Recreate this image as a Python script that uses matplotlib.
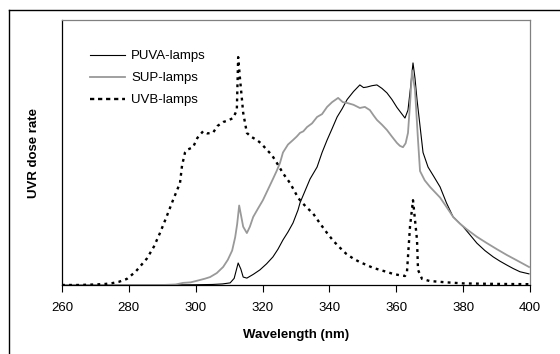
import numpy as np
import matplotlib
matplotlib.use("Agg")
import matplotlib.pyplot as plt
from matplotlib.lines import Line2D

plt.rcParams["font.family"] = ["Liberation Sans", "DejaVu Sans"]

# wavelength (nm) / relative dose rate
uvb_wl = [260, 265, 270, 273, 275, 277, 279.4, 282, 285.4, 287.5, 289.3, 291.2, 293.2,
          295.3, 295.9, 296.8, 297.4, 299.2, 300.5, 302.2, 303.5, 305.2, 306.5,
          308.2, 309.5, 311.2, 312.3, 312.7, 313.2, 314.2, 315.3, 316.5, 318.3,
          319.5, 321.3, 322.8, 324.3, 326.2, 328.2, 330.6, 331.2, 333.0, 335.1,
          337.2, 339.3, 341.2, 343.2, 345.0, 347.1, 349.0, 351.2, 353.0, 355.1,
          357.0, 359.0, 361.0, 362.6, 363.2, 364.1, 365.0, 366.2, 366.5, 367.7,
          370, 375, 380, 390, 400]
uvb_val = [0.0, 0.0, 0.002, 0.004, 0.007, 0.012, 0.023, 0.05, 0.10, 0.145, 0.196, 0.255, 0.32,
           0.385, 0.45, 0.50, 0.51, 0.52, 0.555, 0.58, 0.572, 0.575, 0.60,
           0.615, 0.62, 0.63, 0.66, 0.86, 0.785, 0.65, 0.574, 0.56, 0.547,
           0.535, 0.51, 0.49, 0.46, 0.42, 0.385, 0.33, 0.32, 0.295, 0.27,
           0.232, 0.196, 0.166, 0.14, 0.118, 0.10, 0.087, 0.075, 0.065, 0.057,
           0.05, 0.042, 0.037, 0.034, 0.05, 0.22, 0.32, 0.17, 0.057, 0.023,
           0.015, 0.01, 0.006, 0.004, 0.003]

puva_wl = [260, 290, 300, 305, 308, 310.3, 311.5, 312.7, 313.5, 314.2, 315.3, 317.2,
           319.2, 321.2, 323.1, 324.6, 326.1, 327.6, 329.1, 330.6, 331.2, 332.7,
           334.2, 336.3, 337.8, 339.3, 340.8, 342.3, 343.8, 345.3, 347.2, 349.1,
           350.2, 351.2, 352.7, 354.2, 355.7, 357.2, 358.7, 360.2, 361.4, 362.6,
           363.5, 364.3, 365.0, 365.6, 366.2, 367.1, 368.0, 369.5, 371.2, 373.1,
           375.0, 377.0, 380.0, 382.0, 384.1, 386.5, 389.0, 391.0, 393.1, 395.0,
           397.0, 399.7]
puva_val = [0.0, 0.0, 0.001, 0.002, 0.004, 0.008, 0.025, 0.083, 0.06, 0.03, 0.026, 0.04,
            0.057, 0.08, 0.106, 0.135, 0.17, 0.2, 0.234, 0.283, 0.31, 0.355,
            0.40, 0.445, 0.5, 0.547, 0.59, 0.634, 0.665, 0.70, 0.73, 0.755,
            0.745, 0.747, 0.752, 0.755, 0.742, 0.725, 0.70, 0.67, 0.65, 0.63,
            0.66, 0.75, 0.838, 0.78, 0.70, 0.6, 0.50, 0.445, 0.41, 0.37,
            0.31, 0.257, 0.22, 0.19, 0.158, 0.13, 0.106, 0.09, 0.075, 0.062,
            0.05, 0.042]

sup_wl = [260, 290, 294, 296.2, 298.5, 301.3, 302.8, 304.3, 306.3, 308.2, 309.6,
          310.9, 311.8, 312.4, 313.0, 313.6, 314.2, 315.3, 316.2, 317.2, 318.7,
          320.1, 321.6, 323.1, 324.2, 325.2, 326.1, 327.6, 329.1, 330.2, 331.2,
          332.2, 333.3, 334.8, 336.3, 337.8, 339.3, 340.8, 342.6, 344.0, 345.3,
          347.2, 349.1, 350.6, 352.1, 353.2, 354.2, 355.7, 357.2, 358.7, 360.2,
          361.1, 362.0, 362.8, 363.5, 364.2, 364.7, 365.6, 366.5, 367.1, 368.5,
          370.1, 371.6, 373.1, 375.0, 377.0, 379.0, 381.1, 384.1, 387.1, 390.1,
          393.1, 396.5, 399.7]
sup_val = [0.0, 0.0, 0.002, 0.008, 0.01, 0.019, 0.024, 0.03, 0.045, 0.068, 0.095,
           0.13, 0.18, 0.23, 0.30, 0.26, 0.22, 0.196, 0.22, 0.257, 0.29,
           0.32, 0.36, 0.40, 0.43, 0.46, 0.50, 0.53, 0.547, 0.56, 0.574,
           0.58, 0.596, 0.61, 0.634, 0.645, 0.672, 0.69, 0.706, 0.69, 0.687,
           0.68, 0.668, 0.672, 0.66, 0.64, 0.623, 0.605, 0.585, 0.56, 0.536,
           0.525, 0.52, 0.535, 0.574, 0.70, 0.81, 0.736, 0.547, 0.43, 0.395,
           0.37, 0.35, 0.33, 0.295, 0.257, 0.232, 0.21, 0.182, 0.158, 0.135,
           0.113, 0.09, 0.068]

x_ticks = [260, 280, 300, 320, 340, 360, 380, 400]

fig = plt.figure(figsize=(5.6, 3.54), dpi=100)
ax = fig.add_axes([62 / 560, 1 - 285 / 354, 468 / 560, 265 / 354])

ax.plot(puva_wl, puva_val, color="black", lw=0.8, label="PUVA-lamps")
ax.plot(sup_wl, sup_val, color="#999999", lw=1.3, label="SUP-lamps")
ax.plot(uvb_wl, uvb_val, color="black", lw=1.7, ls=(0, (1.2, 1.8)), label="UVB-lamps")

ax.set_xlim(260, 400)
ax.set_ylim(0, 1)
ax.set_xticks(x_ticks)
ax.set_yticks([])
ax.tick_params(axis="x", direction="out", length=5, width=0.8, labelsize=9.5, pad=7)
for s in ["left", "bottom"]:
    ax.spines[s].set_color("black")
    ax.spines[s].set_linewidth(0.9)
for s in ["top", "right"]:
    ax.spines[s].set_color("#808080")
    ax.spines[s].set_linewidth(0.9)

ax.set_xlabel("Wavelength (nm)", fontsize=9.5, fontweight="bold", labelpad=11)
ax.set_ylabel("UVR dose rate", fontsize=9.5, fontweight="bold", labelpad=16)

handles = [
    Line2D([], [], color="black", lw=0.8),
    Line2D([], [], color="#999999", lw=1.3),
    Line2D([], [], color="black", lw=1.7, ls=(0, (1.8, 1.6))),
]
ax.legend(handles, ["PUVA-lamps", "SUP-lamps", "UVB-lamps"], loc="upper left",
          bbox_to_anchor=(0.045, 0.912), frameon=False, fontsize=9.5, borderpad=0,
          handlelength=2.7, handletextpad=0.45, labelspacing=0.75)

# outer chart border (clipped at right and bottom, as in the original)
fig.add_artist(Line2D([9 / 560, 9 / 560], [0, 1 - 10 / 354], color="black", lw=1.0))
fig.add_artist(Line2D([9 / 560, 1], [1 - 10 / 354, 1 - 10 / 354], color="black", lw=1.0))

fig.savefig("out.png", dpi=100, facecolor="white")
